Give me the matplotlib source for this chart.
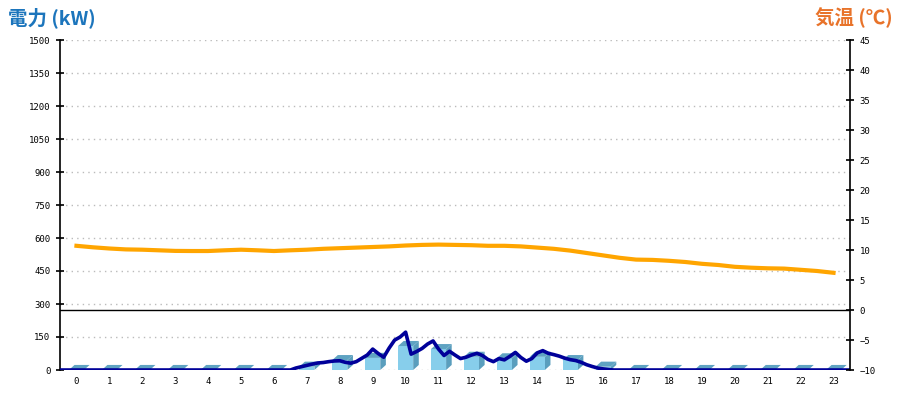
import numpy as np
import matplotlib.pyplot as plt
from matplotlib.collections import PolyCollection

plt.rcParams['font.family'] = ['Noto Sans CJK JP', 'DejaVu Sans']

# hourly bars (kW)
hours = np.arange(24)
hour_labels = [str(h) for h in hours]
bar_kw = [0, 0, 0, 0, 0, 0, 0, 15, 45, 55, 109, 95, 60, 53, 60, 45, 15,
          0, 0, 0, 0, 0, 0, 0]

# 10-minute power line (kW), position on the hour axis
power_pos = np.arange(145) / 6 - 0.5
power_day = [0, 9, 15, 21, 27, 32, 34, 38, 41, 42, 35, 31, 38, 53, 68,
             95, 75, 58, 100, 136, 150, 172, 72, 84, 98, 118, 132, 95, 66,
             85, 68, 52, 58, 68, 76, 66, 48, 38, 52, 46, 62, 80, 57, 40, 52,
             78, 88, 76, 70, 63, 54, 47, 43, 35, 24, 16, 9, 5, 2, 0]
power_kw = [0] * 42 + power_day
power_kw += [0] * (len(power_pos) - len(power_kw))

# 30-minute temperature (deg C)
temp_pos = np.arange(47) / 2
temp_c = [10.7, 10.45, 10.25, 10.1, 10.05, 9.95, 9.85, 9.83, 9.83, 9.95,
          10.05, 9.95, 9.83, 9.95, 10.05, 10.2, 10.3, 10.4, 10.5, 10.6,
          10.75, 10.85, 10.9, 10.85, 10.8, 10.7, 10.7, 10.6, 10.4, 10.2,
          9.9, 9.5, 9.1, 8.7, 8.4, 8.35, 8.2, 8.0, 7.7, 7.5, 7.2, 7.05,
          6.95, 6.9, 6.7, 6.5, 6.2]

left_ticks = np.arange(0, 1501, 150)
right_ticks = np.arange(-10, 46, 5)

fig = plt.figure(figsize=(9, 4), dpi=100)
ax = fig.add_axes([60 / 900, 30 / 400, 790 / 900, 330 / 400])
ax2 = ax.twinx()

# pseudo-3D bars
w = 0.46
dx, dy = 0.17, 23
front, side, top = [], [], []
for h, v in zip(hours, bar_kw):
    x0, x1 = h - w / 2, h + w / 2
    front.append([(x0, 0), (x1, 0), (x1, v), (x0, v)])
    side.append([(x1, 0), (x1 + dx, dy), (x1 + dx, v + dy), (x1, v)])
    top.append([(x0, v), (x1, v), (x1 + dx, v + dy), (x0 + dx, v + dy)])
ax.add_collection(PolyCollection(side, facecolor='#5a9ebd', edgecolor='none', zorder=2))
ax.add_collection(PolyCollection(front, facecolor='#87ceeb', edgecolor='none', zorder=2))
ax.add_collection(PolyCollection(top, facecolor='#5fa3c2', edgecolor='none', zorder=2))

ax.plot(power_pos, power_kw, color='#000099', lw=2.6, zorder=3)

ax.set_xlim(-0.5, 23.5)
ax.set_ylim(0, 1500)
ax.set_yticks(left_ticks)
ax.set_xticks(hours)
ax.set_xticklabels(hour_labels)
ax.yaxis.grid(True, linestyle=(0, (1, 3)), color='#bbbbbb', lw=1)
ax.set_axisbelow(True)
for s in ['top', 'bottom', 'right']:
    ax.spines[s].set_visible(False)
for s in ['top', 'bottom', 'left']:
    ax2.spines[s].set_visible(False)
ax.spines['left'].set_linewidth(1.2)
ax2.spines['right'].set_linewidth(1.2)

ax.tick_params(axis='y', direction='inout', length=6, width=1.2, pad=4)
ax.tick_params(axis='x', length=0, pad=5)
for lab in ax.get_xticklabels() + ax.get_yticklabels():
    lab.set_fontfamily('DejaVu Sans Mono')
    lab.set_fontsize(6.5)

ax2.plot(temp_pos, temp_c, color='#ffa500', lw=3.0, zorder=3)
ax2.axhline(0, color='black', lw=1)
ax2.set_ylim(-10, 45)
ax2.set_yticks(right_ticks)
ax2.tick_params(axis='y', direction='inout', length=6, width=1.2, pad=4)
for lab in ax2.get_yticklabels():
    lab.set_fontfamily('DejaVu Sans Mono')
    lab.set_fontsize(6.5)

fig.text(8 / 900, 1 - 18 / 400, '電力 (kW)', color='#1c75bc', fontsize=14,
         fontweight='bold', va='center', ha='left')
fig.text(893 / 900, 1 - 18 / 400, '気温 (℃)', color='#e8732a', fontsize=14,
         fontweight='bold', va='center', ha='right')

fig.savefig('out.png', dpi=100)
